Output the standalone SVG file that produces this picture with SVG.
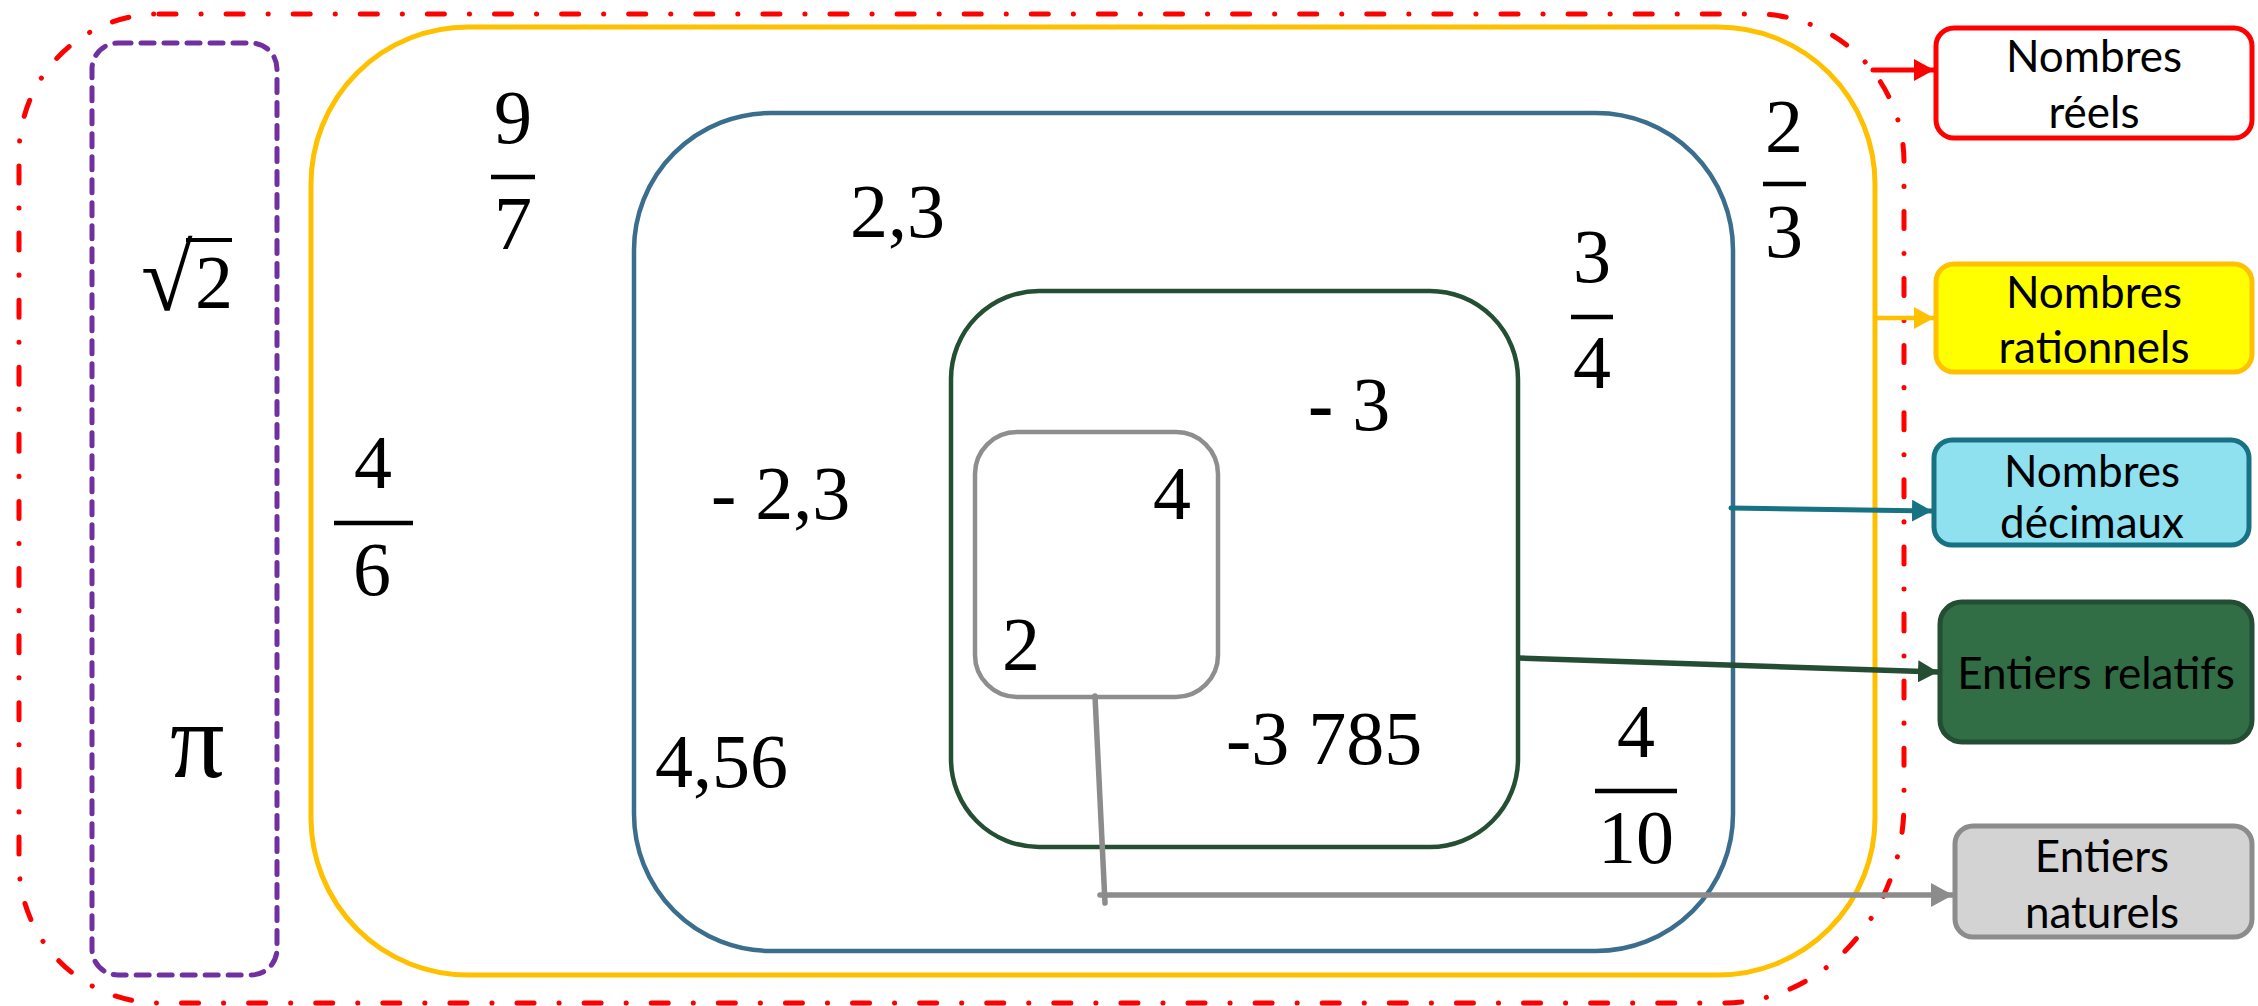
<svg xmlns="http://www.w3.org/2000/svg" width="2258" height="1006" viewBox="0 0 2258 1006">
<style>
.num{font-family:"Liberation Serif","Times New Roman",serif;font-size:76px;fill:#000}
.lbl{font-family:Lato,"Liberation Sans",sans-serif;font-size:44px;fill:#000;text-anchor:middle}
.bar{stroke:#000;stroke-width:4.5}
.set{fill:none}
.box{stroke-width:5}
</style>
<defs>
<marker id="aR" markerUnits="userSpaceOnUse" markerWidth="20" markerHeight="22" refX="20" refY="11" orient="auto"><path d="M0,0 L20,11 L0,22 z" fill="#FF0000"/></marker>
<marker id="aY" markerUnits="userSpaceOnUse" markerWidth="20" markerHeight="22" refX="20" refY="11" orient="auto"><path d="M0,0 L20,11 L0,22 z" fill="#FFC000"/></marker>
<marker id="aB" markerUnits="userSpaceOnUse" markerWidth="20" markerHeight="22" refX="20" refY="11" orient="auto"><path d="M0,0 L20,11 L0,22 z" fill="#177283"/></marker>
<marker id="aG" markerUnits="userSpaceOnUse" markerWidth="20" markerHeight="22" refX="20" refY="11" orient="auto"><path d="M0,0 L20,11 L0,22 z" fill="#244D33"/></marker>
<marker id="aN" markerUnits="userSpaceOnUse" markerWidth="22" markerHeight="24" refX="22" refY="12" orient="auto"><path d="M0,0 L22,12 L0,24 z" fill="#8C8C8C"/></marker>
</defs>
<rect width="2258" height="1006" fill="#fff"/>

<g id="set-reels">
<path class="set" d="M159,14 H1756 A148,148 0 0 1 1904,162 V803 A180,200 0 0 1 1724,1003 H159 A140,140 0 0 1 19,863 V154 A140,140 0 0 1 159,14 Z" stroke="#FF0000" stroke-width="5" stroke-linecap="round" stroke-dasharray="17 25 0.1 25"/>
</g>
<g id="set-irrationnels">
<rect class="set" x="92" y="43" width="185" height="932" rx="26" ry="26" stroke="#7030A0" stroke-width="5" stroke-linecap="round" stroke-dasharray="13 10"/>
<text class="num" x="141" y="310" style="font-size:94px">√</text>
<line x1="186" y1="240" x2="232" y2="240" stroke="#000" stroke-width="4"/>
<text class="num" x="195" y="308">2</text>
<text class="num" x="170" y="777" style="font-size:108px">π</text>
</g>
<g id="set-rationnels">
<rect class="set" x="311" y="27" width="1564" height="948" rx="157" ry="157" stroke="#FFC000" stroke-width="5"/>
<text class="num" x="513" y="143" text-anchor="middle">9</text>
<line class="bar" x1="491" y1="177" x2="535" y2="177"/>
<text class="num" x="513" y="249" text-anchor="middle">7</text>
<text class="num" x="373" y="488" text-anchor="middle">4</text>
<line class="bar" x1="334" y1="523" x2="413" y2="523"/>
<text class="num" x="372" y="595" text-anchor="middle">6</text>
<text class="num" x="1784" y="152" text-anchor="middle">2</text>
<line class="bar" x1="1763" y1="184" x2="1806" y2="184"/>
<text class="num" x="1784" y="257" text-anchor="middle">3</text>
</g>
<g id="set-decimaux">
<rect class="set" x="634" y="113" width="1099" height="838" rx="137" ry="137" stroke="#3A6E8C" stroke-width="4.5"/>
<text class="num" x="850" y="237">2,3</text>
<text class="num" x="711" y="519">- 2,3</text>
<text class="num" x="655" y="787">4,56</text>
<text class="num" x="1592" y="282" text-anchor="middle">3</text>
<line class="bar" x1="1571" y1="317" x2="1613" y2="317"/>
<text class="num" x="1592" y="388" text-anchor="middle">4</text>
<text class="num" x="1636" y="757" text-anchor="middle">4</text>
<line class="bar" x1="1595" y1="791" x2="1677" y2="791"/>
<text class="num" x="1636" y="863" text-anchor="middle">10</text>
</g>
<g id="set-relatifs">
<rect class="set" x="951" y="291" width="567" height="556" rx="88" ry="88" stroke="#254F33" stroke-width="4.5"/>
<text class="num" x="1308" y="430"><tspan font-weight="bold">-</tspan> 3</text>
<text class="num" x="1226" y="764">-3 785</text>
</g>
<g id="set-naturels">
<rect class="set" x="975" y="432" width="243" height="265" rx="42" ry="42" stroke="#8E8E8E" stroke-width="4.5"/>
<text class="num" x="1153" y="519">4</text>
<text class="num" x="1002" y="670">2</text>
</g>

<g id="connectors" fill="none" stroke-linecap="round">
<line x1="1873" y1="70" x2="1934" y2="70" stroke="#FF0000" stroke-width="5" marker-end="url(#aR)"/>
<line x1="1875" y1="318" x2="1934" y2="318" stroke="#FFC000" stroke-width="4.5" marker-end="url(#aY)"/>
<line x1="1731" y1="508" x2="1932" y2="511" stroke="#177283" stroke-width="5" marker-end="url(#aB)"/>
<line x1="1519" y1="658" x2="1938" y2="672" stroke="#244D33" stroke-width="5.5" marker-end="url(#aG)"/>
<line x1="1095" y1="696" x2="1105" y2="903" stroke="#8C8C8C" stroke-width="5.5"/>
<line x1="1100" y1="895" x2="1953" y2="895" stroke="#8C8C8C" stroke-width="5.5" marker-end="url(#aN)"/>
</g>

<g id="label-reels">
<rect class="box" x="1936" y="28" width="316" height="110" rx="18" fill="#fff" stroke="#FF0000"/>
<text class="lbl" x="2094" y="72">Nombres</text>
<text class="lbl" x="2094" y="128">réels</text>
</g>
<g id="label-rationnels">
<rect class="box" x="1936" y="264" width="316" height="108" rx="18" fill="#FFFF00" stroke="#FFC000"/>
<text class="lbl" x="2094" y="308">Nombres</text>
<text class="lbl" x="2094" y="363">rationnels</text>
</g>
<g id="label-decimaux">
<rect class="box" x="1934" y="440" width="315" height="105" rx="18" fill="#8FE1F0" stroke="#177283"/>
<text class="lbl" x="2092" y="487">Nombres</text>
<text class="lbl" x="2092" y="538">décimaux</text>
</g>
<g id="label-relatifs">
<rect class="box" x="1940" y="602" width="312" height="140" rx="22" fill="#316E46" stroke="#244D33"/>
<text class="lbl" x="2096" y="689">Entiers relatifs</text>
</g>
<g id="label-naturels">
<rect class="box" x="1955" y="826" width="297" height="111" rx="18" fill="#D3D3D3" stroke="#8C8C8C"/>
<text class="lbl" x="2102" y="872">Entiers</text>
<text class="lbl" x="2102" y="928">naturels</text>
</g>
</svg>
